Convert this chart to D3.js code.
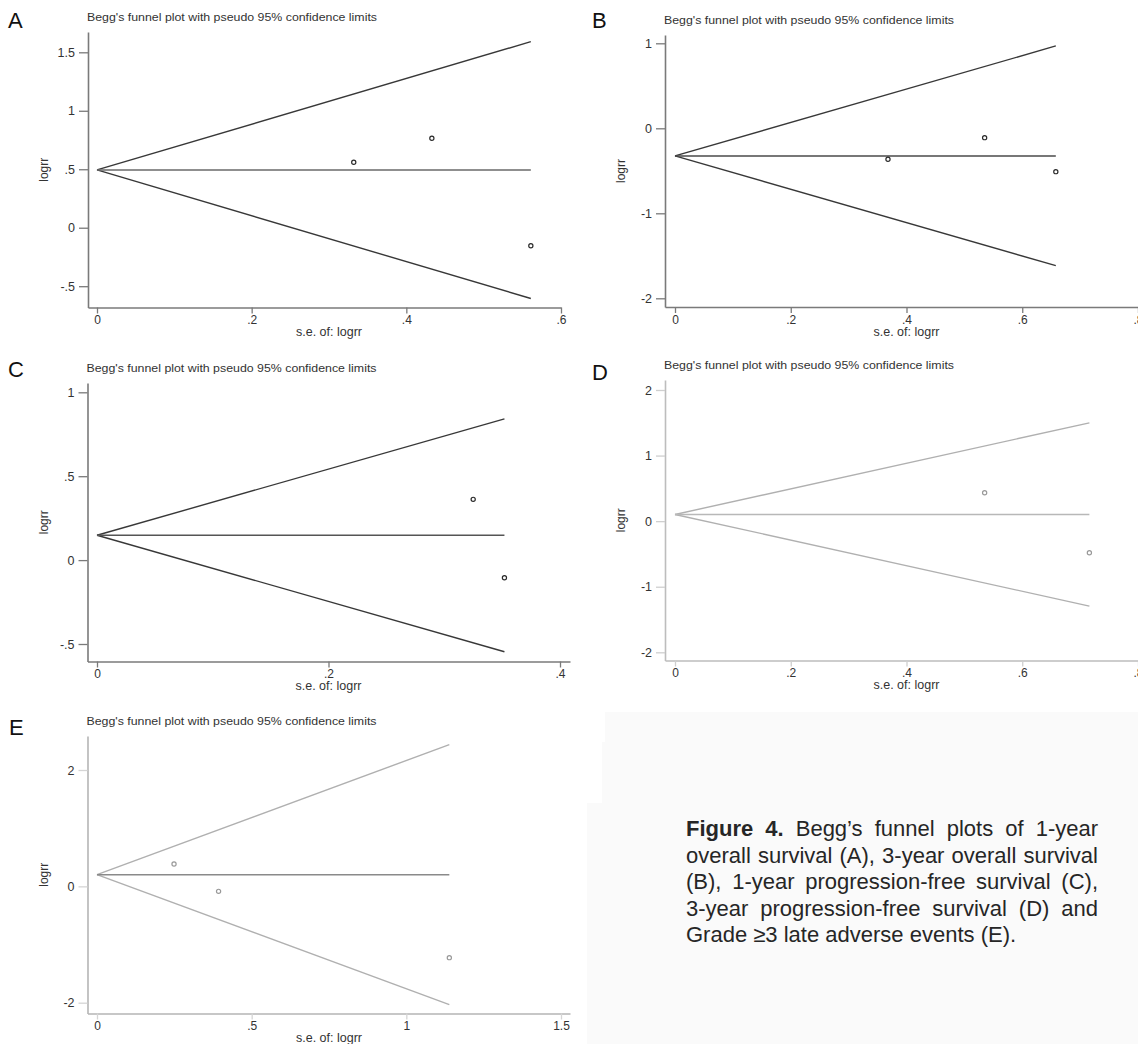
<!DOCTYPE html>
<html>
<head>
<meta charset="utf-8">
<script src="https://cdn.jsdelivr.net/npm/d3@7"></script>
<style>
  html, body { margin: 0; padding: 0; background: #ffffff; }
  svg { display: block; }
  text { font-family: "Liberation Sans", Arial, sans-serif; }
</style>
</head>
<body>
<svg id="chart" width="1138" height="1044"></svg>
<script>
// ---------------- DATA ----------------
const panelLetters = ["A", "B", "C", "D", "E"];
const panelTitle = "Begg's funnel plot with pseudo 95% confidence limits";
const xAxisTitle = "s.e. of: logrr";
const yAxisTitle = "logrr";

// study points: standard error of logrr and logrr
const seA = [0.332, 0.433, 0.561];
const logrrA = [0.560, 0.765, -0.154];
const seB = [0.368, 0.535, 0.658];
const logrrB = [-0.365, -0.110, -0.510];
const seC = [0.325, 0.352];
const logrrC = [0.362, -0.105];
const seD = [0.535, 0.716];
const logrrD = [0.432, -0.483];
const seE = [0.249, 0.393, 1.139];
const logrrE = [0.384, -0.086, -1.226];

// pooled estimate and funnel end points [max se, upper limit, lower limit]
const pooled = [0.494, -0.325, 0.148, 0.102, 0.201];
const funnelMaxSe = [0.561, 0.658, 0.352, 0.716, 1.139];
const funnelUpper = [1.591, 0.969, 0.842, 1.499, 2.436];
const funnelLower = [-0.605, -1.616, -0.546, -1.296, -2.034];

// tick values
const xTicksA = [0, 0.2, 0.4, 0.6];
const yTicksA = [-0.5, 0, 0.5, 1, 1.5];
const xTicksB = [0, 0.2, 0.4, 0.6, 0.8];
const yTicksB = [-2, -1, 0, 1];
const xTicksC = [0, 0.2, 0.4];
const yTicksC = [-0.5, 0, 0.5, 1];
const xTicksD = [0, 0.2, 0.4, 0.6, 0.8];
const yTicksD = [-2, -1, 0, 1, 2];
const xTicksE = [0, 0.5, 1, 1.5];
const yTicksE = [-2, 0, 2];

const captionLines = [
  [{t: "Figure 4.", b: true}, {t: "Begg\u2019s funnel plots of 1-year"}],
  [{t: "overall survival (A), 3-year overall survival"}],
  [{t: "(B), 1-year progression-free survival (C),"}],
  [{t: "3-year progression-free survival (D) and"}],
  [{t: "Grade \u22653 late adverse events (E)."}]
];

// ---------------- LAYOUT / STYLE ----------------
const layout = [
  {yAxisX: 88, xAxisY: 307.5, yTop: 32, xEnd: 561, xk: [97, 561], yk: [286.2, 52.3], letter: [8, 28]},
  {yAxisX: 665, xAxisY: 307, yTop: 35, xEnd: 1138, xk: [675, 1138], yk: [298.3, 43.3], letter: [592, 28]},
  {yAxisX: 87.5, xAxisY: 661.5, yTop: 383, xEnd: 570, xk: [97, 560], yk: [644, 392.3], letter: [8, 377]},
  {yAxisX: 665, xAxisY: 660.5, yTop: 380, xEnd: 1138, xk: [675, 1138], yk: [652.3, 390], letter: [592, 380]},
  {yAxisX: 87.5, xAxisY: 1013.5, yTop: 736, xEnd: 570, xk: [97, 561], yk: [1002.7, 770], letter: [9, 735]}
];
const styles = [
  {funnel: "#383838", pooledC: "#6a6a6a", axis: "#7a7a7a", tick: "#7a7a7a", marker: "#2a2a2a", text: "#333"},
  {funnel: "#383838", pooledC: "#4a4a4a", axis: "#7a7a7a", tick: "#7a7a7a", marker: "#2a2a2a", text: "#333"},
  {funnel: "#383838", pooledC: "#555555", axis: "#7a7a7a", tick: "#7a7a7a", marker: "#2a2a2a", text: "#333"},
  {funnel: "#b0b0b0", pooledC: "#b8b8b8", axis: "#bdbdbd", tick: "#cfcfcf", marker: "#999", text: "#333"},
  {funnel: "#b0b0b0", pooledC: "#8a8a8a", axis: "#b5b5b5", tick: "#d5d5d5", marker: "#999", text: "#333"}
];

const panels = [
  {se: seA, lr: logrrA, xt: xTicksA, yt: yTicksA},
  {se: seB, lr: logrrB, xt: xTicksB, yt: yTicksB},
  {se: seC, lr: logrrC, xt: xTicksC, yt: yTicksC},
  {se: seD, lr: logrrD, xt: xTicksD, yt: yTicksD},
  {se: seE, lr: logrrE, xt: xTicksE, yt: yTicksE}
];

const fmt = v => {
  if (v === 0) return "0";
  let s = String(+v.toFixed(3));
  return s.replace(/^(-?)0\./, "$1.");
};

const svg = d3.select("#chart");

// light background behind caption
svg.append("path")
  .attr("d", "M605,712 L1138,712 L1138,1044 L587,1044 L587,803 L602,803 L602,742 L605,742 Z")
  .attr("fill", "#fafafa");

panels.forEach((p, i) => {
  const L = layout[i], S = styles[i];
  const xt = p.xt, yt = p.yt;
  const x0 = d3.scaleLinear().domain([xt[0], xt[xt.length - 1]]).range(L.xk);
  const y0 = d3.scaleLinear().domain([yt[0], yt[yt.length - 1]]).range(L.yk);
  const x = d3.scaleLinear().domain([x0.invert(L.yAxisX), x0.invert(L.xEnd)]).range([L.yAxisX, L.xEnd]);
  const y = d3.scaleLinear().domain([y0.invert(L.xAxisY), y0.invert(L.yTop)]).range([L.xAxisY, L.yTop]);
  const g = svg.append("g");

  // axes
  const gx = g.append("g").attr("transform", `translate(0,${L.xAxisY})`)
    .call(d3.axisBottom(x).tickValues(xt).tickFormat(fmt).tickSize(6).tickSizeOuter(0).tickPadding(2));
  const gy = g.append("g").attr("transform", `translate(${L.yAxisX},0)`)
    .call(d3.axisLeft(y).tickValues(yt).tickFormat(fmt).tickSize(9).tickSizeOuter(0).tickPadding(4));
  gx.selectAll(".tick text").attr("font-size", 12);
  gy.selectAll(".tick text").attr("font-size", 12.5);
  [gx, gy].forEach(a => {
    a.select(".domain").attr("stroke", S.axis).attr("stroke-width", 1.6);
    a.selectAll(".tick line").attr("stroke", S.tick).attr("stroke-width", 1.3);
    a.selectAll(".tick text").attr("fill", S.text)
      .attr("font-family", "'Liberation Sans', Arial, sans-serif");
  });

  // funnel lines
  const lineGen = d3.line().x(d => x(d[0])).y(d => y(d[1]));
  const s0 = 0, s1 = funnelMaxSe[i];
  g.append("path").attr("d", lineGen([[s0, pooled[i]], [s1, funnelUpper[i]]]))
    .attr("fill", "none").attr("stroke", S.funnel).attr("stroke-width", 1.4);
  g.append("path").attr("d", lineGen([[s0, pooled[i]], [s1, funnelLower[i]]]))
    .attr("fill", "none").attr("stroke", S.funnel).attr("stroke-width", 1.4);
  g.append("path").attr("d", lineGen([[s0, pooled[i]], [s1, pooled[i]]]))
    .attr("fill", "none").attr("stroke", S.pooledC).attr("stroke-width", 1.5);

  // study markers
  g.selectAll("circle.pt").data(p.se.map((s, k) => [s, p.lr[k]])).enter()
    .append("circle").attr("class", "pt")
    .attr("cx", d => x(d[0])).attr("cy", d => y(d[1])).attr("r", 2.1)
    .attr("fill", "none").attr("stroke", S.marker).attr("stroke-width", 1.2);

  // titles
  g.append("text").attr("x", L.yAxisX - 1).attr("y", L.yTop - 11)
    .attr("font-size", 11.5).attr("fill", "#333")
    .attr("textLength", 290).attr("lengthAdjust", "spacingAndGlyphs")
    .text(panelTitle);
  g.append("text").attr("x", L.letter[0]).attr("y", L.letter[1])
    .attr("font-size", 22).attr("fill", "#111").text(panelLetters[i]);
  g.append("text")
    .attr("transform", `translate(${L.yAxisX - 40},${(L.yTop + L.xAxisY) / 2}) rotate(-90)`)
    .attr("text-anchor", "middle").attr("font-size", 12).attr("fill", S.text).text(yAxisTitle);
  g.append("text").attr("x", x0((xt[0] + xt[xt.length - 1]) / 2)).attr("y", L.xAxisY + 28.5)
    .attr("text-anchor", "middle").attr("font-size", 12.5).attr("fill", S.text).text(xAxisTitle);
});

// caption, justified
const capX = 686, capW = 412, capY0 = 836, capLH = 26.6, capFS = 22;
captionLines.forEach((segs, li) => {
  const words = [];
  segs.forEach(s => s.t.split(" ").forEach(w => words.push({t: w, b: !!s.b})));
  const nodes = words.map(w => svg.append("text")
    .attr("y", capY0 + li * capLH).attr("font-size", capFS)
    .attr("font-weight", w.b ? "bold" : "normal").attr("fill", "#262626").text(w.t));
  const widths = nodes.map(n => n.node().getComputedTextLength());
  const total = d3.sum(widths);
  const last = li === captionLines.length - 1;
  const gap = last ? capFS * 0.278 : (capW - total) / (words.length - 1);
  let cx = capX;
  nodes.forEach((n, k) => { n.attr("x", cx); cx += widths[k] + gap; });
});
</script>
</body>
</html>
